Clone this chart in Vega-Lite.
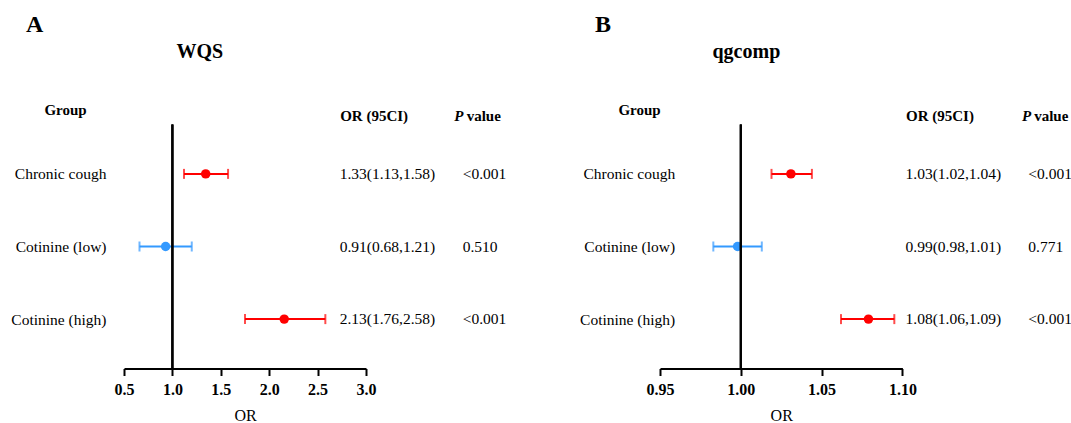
{
  "$schema": "https://vega.github.io/schema/vega-lite/v6.json",
  "padding": {"left": 10, "top": 12.5, "right": 0, "bottom": 0},
  "bounds": "flush",
  "spacing": 136,
  "config": {
    "font": "Liberation Serif",
    "view": {"stroke": null},
    "axis": {"labelColor": "black", "titleColor": "black", "grid": false},
    "title": {"color": "black"}
  },
  "datasets": {
    "wqs": [
      {"group": "Chronic cough", "or": 1.344, "lo": 1.12, "hi": 1.575, "or_ci": "1.33(1.13,1.58)", "p": "<0.001", "sig": "yes"},
      {"group": "Cotinine (low)", "or": 0.93, "lo": 0.66, "hi": 1.2, "or_ci": "0.91(0.68,1.21)", "p": "0.510", "sig": "no"},
      {"group": "Cotinine (high)", "or": 2.155, "lo": 1.75, "hi": 2.58, "or_ci": "2.13(1.76,2.58)", "p": "<0.001", "sig": "yes"}
    ],
    "qg": [
      {"group": "Chronic cough", "or": 1.031, "lo": 1.019, "hi": 1.044, "or_ci": "1.03(1.02,1.04)", "p": "<0.001", "sig": "yes"},
      {"group": "Cotinine (low)", "or": 0.998, "lo": 0.983, "hi": 1.013, "or_ci": "0.99(0.98,1.01)", "p": "0.771", "sig": "no"},
      {"group": "Cotinine (high)", "or": 1.079, "lo": 1.062, "hi": 1.095, "or_ci": "1.08(1.06,1.09)", "p": "<0.001", "sig": "yes"}
    ]
  },
  "hconcat": [
    {
      "title": {"text": "A", "anchor": "start", "frame": "group", "dx": -98, "fontSize": 24, "fontWeight": "bold", "offset": 5},
      "width": 400,
      "height": 244,
      "data": {"name": "wqs"},
      "layer": [
        {
          "layer": [
            {
              "mark": {"type": "rule", "strokeWidth": 2},
              "encoding": {
                "x": {"field": "lo", "type": "quantitative", "scale": {"domain": [0.5, 3.0], "range": [0, 242], "nice": false, "zero": false},
                  "axis": {"values": [0.5, 1, 1.5, 2, 2.5, 3], "format": ".1f", "title": "OR", "labelFontWeight": "bold", "labelFontSize": 16, "titleFontWeight": "normal", "titleFontSize": 16, "domainColor": "black", "domainWidth": 2, "tickColor": "black", "tickWidth": 2, "tickSize": 7, "labelPadding": 6, "titlePadding": 10, "labelFlush": false}},
                "x2": {"field": "hi"},
                "y": {"field": "group", "type": "nominal", "sort": ["Chronic cough", "Cotinine (low)", "Cotinine (high)"], "scale": {"type": "point", "padding": 0.68},
                  "axis": {"title": "Group", "titleAngle": 0, "titleAlign": "center", "titleBaseline": "middle", "titleX": -59, "titleY": -15, "titleFontWeight": "bold", "titleFontSize": 15, "labelFontSize": 15.5, "domain": false, "ticks": false, "tickSize": 0, "labelPadding": 18, "labelAlign": "right"}},
                "color": {"field": "sig", "type": "nominal", "scale": {"domain": ["yes", "no"], "range": ["#FF0000", "#3399FF"]}, "legend": null}
              }
            },
            {
              "mark": {"type": "tick", "thickness": 2, "size": 10},
              "encoding": {
                "x": {"field": "lo", "type": "quantitative", "scale": {"domain": [0.5, 3.0], "range": [0, 242], "nice": false, "zero": false},
                  "axis": {"values": [0.5, 1, 1.5, 2, 2.5, 3], "format": ".1f", "title": "OR", "labelFontWeight": "bold", "labelFontSize": 16, "titleFontWeight": "normal", "titleFontSize": 16, "domainColor": "black", "domainWidth": 2, "tickColor": "black", "tickWidth": 2, "tickSize": 7, "labelPadding": 6, "titlePadding": 10, "labelFlush": false}},
                "y": {"field": "group", "type": "nominal", "sort": ["Chronic cough", "Cotinine (low)", "Cotinine (high)"], "scale": {"type": "point", "padding": 0.68},
                  "axis": {"title": "Group", "titleAngle": 0, "titleAlign": "center", "titleBaseline": "middle", "titleX": -59, "titleY": -15, "titleFontWeight": "bold", "titleFontSize": 15, "labelFontSize": 15.5, "domain": false, "ticks": false, "tickSize": 0, "labelPadding": 18, "labelAlign": "right"}},
                "color": {"field": "sig", "type": "nominal", "scale": {"domain": ["yes", "no"], "range": ["#FF0000", "#3399FF"]}, "legend": null}
              }
            },
            {
              "mark": {"type": "tick", "thickness": 2, "size": 10},
              "encoding": {
                "x": {"field": "hi", "type": "quantitative", "scale": {"domain": [0.5, 3.0], "range": [0, 242], "nice": false, "zero": false},
                  "axis": {"values": [0.5, 1, 1.5, 2, 2.5, 3], "format": ".1f", "title": "OR", "labelFontWeight": "bold", "labelFontSize": 16, "titleFontWeight": "normal", "titleFontSize": 16, "domainColor": "black", "domainWidth": 2, "tickColor": "black", "tickWidth": 2, "tickSize": 7, "labelPadding": 6, "titlePadding": 10, "labelFlush": false}},
                "y": {"field": "group", "type": "nominal", "sort": ["Chronic cough", "Cotinine (low)", "Cotinine (high)"], "scale": {"type": "point", "padding": 0.68},
                  "axis": {"title": "Group", "titleAngle": 0, "titleAlign": "center", "titleBaseline": "middle", "titleX": -59, "titleY": -15, "titleFontWeight": "bold", "titleFontSize": 15, "labelFontSize": 15.5, "domain": false, "ticks": false, "tickSize": 0, "labelPadding": 18, "labelAlign": "right"}},
                "color": {"field": "sig", "type": "nominal", "scale": {"domain": ["yes", "no"], "range": ["#FF0000", "#3399FF"]}, "legend": null}
              }
            },
            {
              "mark": {"type": "point", "filled": true, "size": 90, "opacity": 1},
              "encoding": {
                "x": {"field": "or", "type": "quantitative", "scale": {"domain": [0.5, 3.0], "range": [0, 242], "nice": false, "zero": false},
                  "axis": {"values": [0.5, 1, 1.5, 2, 2.5, 3], "format": ".1f", "title": "OR", "labelFontWeight": "bold", "labelFontSize": 16, "titleFontWeight": "normal", "titleFontSize": 16, "domainColor": "black", "domainWidth": 2, "tickColor": "black", "tickWidth": 2, "tickSize": 7, "labelPadding": 6, "titlePadding": 10, "labelFlush": false}},
                "y": {"field": "group", "type": "nominal", "sort": ["Chronic cough", "Cotinine (low)", "Cotinine (high)"], "scale": {"type": "point", "padding": 0.68},
                  "axis": {"title": "Group", "titleAngle": 0, "titleAlign": "center", "titleBaseline": "middle", "titleX": -59, "titleY": -15, "titleFontWeight": "bold", "titleFontSize": 15, "labelFontSize": 15.5, "domain": false, "ticks": false, "tickSize": 0, "labelPadding": 18, "labelAlign": "right"}},
                "color": {"field": "sig", "type": "nominal", "scale": {"domain": ["yes", "no"], "range": ["#FF0000", "#3399FF"]}, "legend": null}
              }
            },
            {
              "mark": {"type": "rule", "color": "black", "strokeWidth": 2},
              "encoding": {
                "x": {"datum": 1, "type": "quantitative", "scale": {"domain": [0.5, 3.0], "range": [0, 242], "nice": false, "zero": false},
                  "axis": {"values": [0.5, 1, 1.5, 2, 2.5, 3], "format": ".1f", "title": "OR", "labelFontWeight": "bold", "labelFontSize": 16, "titleFontWeight": "normal", "titleFontSize": 16, "domainColor": "black", "domainWidth": 2, "tickColor": "black", "tickWidth": 2, "tickSize": 7, "labelPadding": 6, "titlePadding": 10, "labelFlush": false}}
              }
            }
          ]
        },
        {
          "transform": [{"fold": ["or_ci", "p"], "as": ["col", "val"]}],
          "mark": {"type": "text", "align": "left", "baseline": "middle", "fontSize": 15.5, "color": "black"},
          "encoding": {
            "x": {"field": "col", "type": "nominal", "scale": {"type": "point", "padding": 0, "domain": ["or_ci", "p"], "range": [215.7, 338.7]},
              "axis": {"orient": "top", "title": "WQS", "titleX": 52, "titleY": -73, "titleAlign": "left", "titleBaseline": "middle", "titleFontSize": 20, "titleFontWeight": "bold",
                "domain": false, "ticks": false, "labelAngle": 0, "labelAlign": "left", "labelFontWeight": "bold", "labelFontSize": 15, "labelPadding": 1,
                "labelExpr": "datum.value == 'or_ci' ? 'OR (95CI)' : 'value'",
                "labelOffset": {"condition": {"test": "datum.value == 'p'", "value": 3.5}, "value": 0}}},
            "y": {"field": "group", "type": "nominal", "sort": ["Chronic cough", "Cotinine (low)", "Cotinine (high)"], "scale": {"type": "point", "padding": 0.68},
              "axis": {"orient": "right", "labels": false, "domain": false, "ticks": false, "title": "P", "titleAngle": 0, "titleAlign": "left", "titleBaseline": "bottom", "titleX": -70.3, "titleY": -1, "titleFontWeight": "bold", "titleFontStyle": "italic", "titleFontSize": 15}},
            "text": {"field": "val"}
          }
        }
      ],
      "resolve": {"scale": {"x": "independent"}, "axis": {"x": "independent", "y": "independent"}}
    },
    {
      "title": {"text": "B", "anchor": "start", "frame": "group", "dx": -65, "fontSize": 24, "fontWeight": "bold", "offset": 5},
      "width": 412,
      "height": 244,
      "data": {"name": "qg"},
      "layer": [
        {
          "layer": [
            {
              "mark": {"type": "rule", "strokeWidth": 2},
              "encoding": {
                "x": {"field": "lo", "type": "quantitative", "scale": {"domain": [0.95, 1.1], "range": [0, 242.4], "nice": false, "zero": false},
                  "axis": {"values": [0.95, 1, 1.05, 1.1], "format": ".2f", "title": "OR", "labelFontWeight": "bold", "labelFontSize": 16, "titleFontWeight": "normal", "titleFontSize": 16, "domainColor": "black", "domainWidth": 2, "tickColor": "black", "tickWidth": 2, "tickSize": 7, "labelPadding": 6, "titlePadding": 10, "labelFlush": false}},
                "x2": {"field": "hi"},
                "y": {"field": "group", "type": "nominal", "sort": ["Chronic cough", "Cotinine (low)", "Cotinine (high)"], "scale": {"type": "point", "padding": 0.68},
                  "axis": {"title": "Group", "titleAngle": 0, "titleAlign": "center", "titleBaseline": "middle", "titleX": -21, "titleY": -15, "titleFontWeight": "bold", "titleFontSize": 15, "labelFontSize": 15.5, "domain": false, "ticks": false, "tickSize": 0, "labelPadding": -14.7, "labelAlign": "right"}},
                "color": {"field": "sig", "type": "nominal", "scale": {"domain": ["yes", "no"], "range": ["#FF0000", "#3399FF"]}, "legend": null}
              }
            },
            {
              "mark": {"type": "tick", "thickness": 2, "size": 10},
              "encoding": {
                "x": {"field": "lo", "type": "quantitative", "scale": {"domain": [0.95, 1.1], "range": [0, 242.4], "nice": false, "zero": false},
                  "axis": {"values": [0.95, 1, 1.05, 1.1], "format": ".2f", "title": "OR", "labelFontWeight": "bold", "labelFontSize": 16, "titleFontWeight": "normal", "titleFontSize": 16, "domainColor": "black", "domainWidth": 2, "tickColor": "black", "tickWidth": 2, "tickSize": 7, "labelPadding": 6, "titlePadding": 10, "labelFlush": false}},
                "y": {"field": "group", "type": "nominal", "sort": ["Chronic cough", "Cotinine (low)", "Cotinine (high)"], "scale": {"type": "point", "padding": 0.68},
                  "axis": {"title": "Group", "titleAngle": 0, "titleAlign": "center", "titleBaseline": "middle", "titleX": -21, "titleY": -15, "titleFontWeight": "bold", "titleFontSize": 15, "labelFontSize": 15.5, "domain": false, "ticks": false, "tickSize": 0, "labelPadding": -14.7, "labelAlign": "right"}},
                "color": {"field": "sig", "type": "nominal", "scale": {"domain": ["yes", "no"], "range": ["#FF0000", "#3399FF"]}, "legend": null}
              }
            },
            {
              "mark": {"type": "tick", "thickness": 2, "size": 10},
              "encoding": {
                "x": {"field": "hi", "type": "quantitative", "scale": {"domain": [0.95, 1.1], "range": [0, 242.4], "nice": false, "zero": false},
                  "axis": {"values": [0.95, 1, 1.05, 1.1], "format": ".2f", "title": "OR", "labelFontWeight": "bold", "labelFontSize": 16, "titleFontWeight": "normal", "titleFontSize": 16, "domainColor": "black", "domainWidth": 2, "tickColor": "black", "tickWidth": 2, "tickSize": 7, "labelPadding": 6, "titlePadding": 10, "labelFlush": false}},
                "y": {"field": "group", "type": "nominal", "sort": ["Chronic cough", "Cotinine (low)", "Cotinine (high)"], "scale": {"type": "point", "padding": 0.68},
                  "axis": {"title": "Group", "titleAngle": 0, "titleAlign": "center", "titleBaseline": "middle", "titleX": -21, "titleY": -15, "titleFontWeight": "bold", "titleFontSize": 15, "labelFontSize": 15.5, "domain": false, "ticks": false, "tickSize": 0, "labelPadding": -14.7, "labelAlign": "right"}},
                "color": {"field": "sig", "type": "nominal", "scale": {"domain": ["yes", "no"], "range": ["#FF0000", "#3399FF"]}, "legend": null}
              }
            },
            {
              "mark": {"type": "point", "filled": true, "size": 90, "opacity": 1},
              "encoding": {
                "x": {"field": "or", "type": "quantitative", "scale": {"domain": [0.95, 1.1], "range": [0, 242.4], "nice": false, "zero": false},
                  "axis": {"values": [0.95, 1, 1.05, 1.1], "format": ".2f", "title": "OR", "labelFontWeight": "bold", "labelFontSize": 16, "titleFontWeight": "normal", "titleFontSize": 16, "domainColor": "black", "domainWidth": 2, "tickColor": "black", "tickWidth": 2, "tickSize": 7, "labelPadding": 6, "titlePadding": 10, "labelFlush": false}},
                "y": {"field": "group", "type": "nominal", "sort": ["Chronic cough", "Cotinine (low)", "Cotinine (high)"], "scale": {"type": "point", "padding": 0.68},
                  "axis": {"title": "Group", "titleAngle": 0, "titleAlign": "center", "titleBaseline": "middle", "titleX": -21, "titleY": -15, "titleFontWeight": "bold", "titleFontSize": 15, "labelFontSize": 15.5, "domain": false, "ticks": false, "tickSize": 0, "labelPadding": -14.7, "labelAlign": "right"}},
                "color": {"field": "sig", "type": "nominal", "scale": {"domain": ["yes", "no"], "range": ["#FF0000", "#3399FF"]}, "legend": null}
              }
            },
            {
              "mark": {"type": "rule", "color": "black", "strokeWidth": 2},
              "encoding": {
                "x": {"datum": 1, "type": "quantitative", "scale": {"domain": [0.95, 1.1], "range": [0, 242.4], "nice": false, "zero": false},
                  "axis": {"values": [0.95, 1, 1.05, 1.1], "format": ".2f", "title": "OR", "labelFontWeight": "bold", "labelFontSize": 16, "titleFontWeight": "normal", "titleFontSize": 16, "domainColor": "black", "domainWidth": 2, "tickColor": "black", "tickWidth": 2, "tickSize": 7, "labelPadding": 6, "titlePadding": 10, "labelFlush": false}}
              }
            }
          ]
        },
        {
          "transform": [{"fold": ["or_ci", "p"], "as": ["col", "val"]}],
          "mark": {"type": "text", "align": "left", "baseline": "middle", "fontSize": 15.5, "color": "black"},
          "encoding": {
            "x": {"field": "col", "type": "nominal", "scale": {"type": "point", "padding": 0, "domain": ["or_ci", "p"], "range": [245.5, 368.3]},
              "axis": {"orient": "top", "title": "qgcomp", "titleX": 52, "titleY": -73, "titleAlign": "left", "titleBaseline": "middle", "titleFontSize": 20, "titleFontWeight": "bold",
                "domain": false, "ticks": false, "labelAngle": 0, "labelAlign": "left", "labelFontWeight": "bold", "labelFontSize": 15, "labelPadding": 1,
                "labelExpr": "datum.value == 'or_ci' ? 'OR (95CI)' : 'value'",
                "labelOffset": {"condition": {"test": "datum.value == 'p'", "value": 5.4}, "value": 0}}},
            "y": {"field": "group", "type": "nominal", "sort": ["Chronic cough", "Cotinine (low)", "Cotinine (high)"], "scale": {"type": "point", "padding": 0.68},
              "axis": {"orient": "right", "labels": false, "domain": false, "ticks": false, "title": "P", "titleAngle": 0, "titleAlign": "left", "titleBaseline": "bottom", "titleX": -50.6, "titleY": -1, "titleFontWeight": "bold", "titleFontStyle": "italic", "titleFontSize": 15}},
            "text": {"field": "val"}
          }
        }
      ],
      "resolve": {"scale": {"x": "independent"}, "axis": {"x": "independent", "y": "independent"}}
    }
  ]
}
